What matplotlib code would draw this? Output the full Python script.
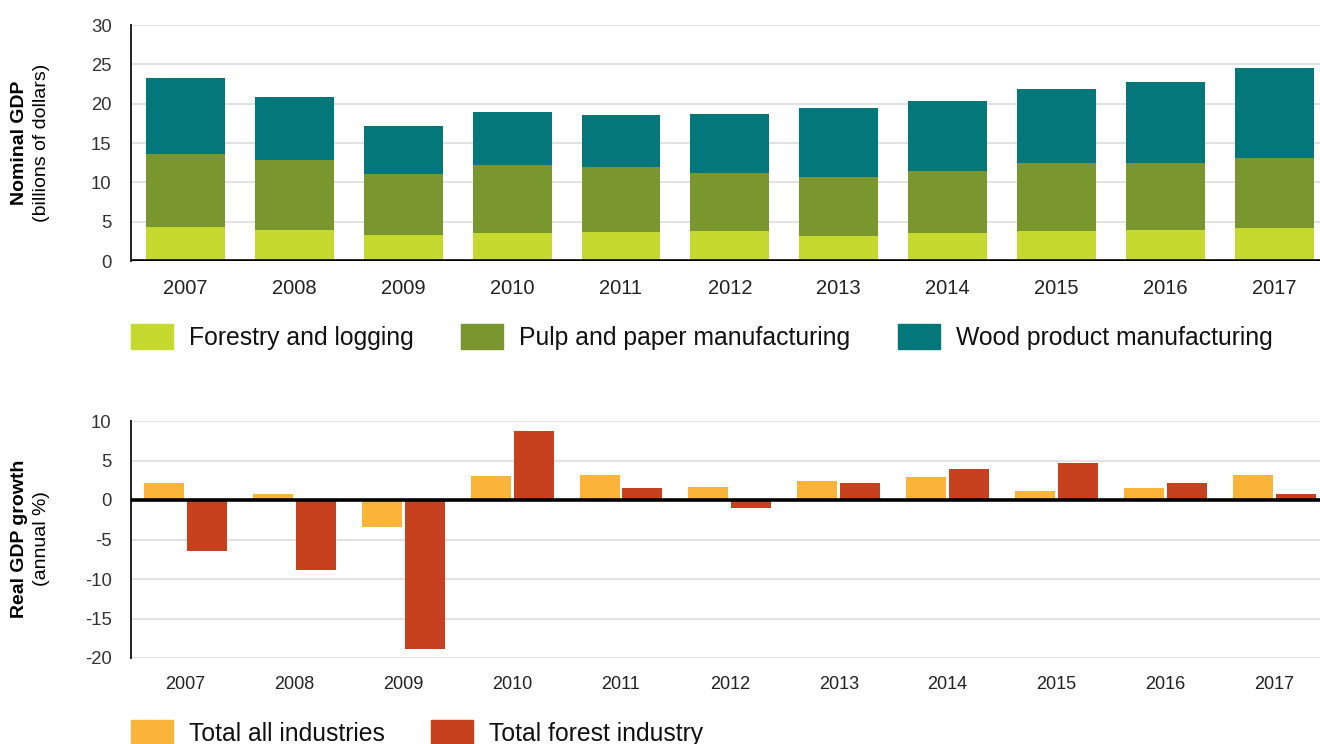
import numpy as np
import matplotlib
matplotlib.use("Agg")
import matplotlib.pyplot as plt
from matplotlib.patches import Rectangle

plt.rcParams['font.family'] = ['Liberation Sans', 'DejaVu Sans']

# data
years = ['2007', '2008', '2009', '2010', '2011', '2012', '2013', '2014', '2015', '2016', '2017']
forestry = [4.3, 4.0, 3.3, 3.5, 3.7, 3.8, 3.2, 3.6, 3.8, 4.0, 4.2]
pulp = [9.3, 8.8, 7.8, 8.7, 8.2, 7.4, 7.5, 7.9, 8.6, 8.5, 8.9]
wood = [9.7, 8.0, 6.1, 6.8, 6.6, 7.5, 8.8, 8.8, 9.5, 10.3, 11.4]
top_labels = ['Forestry and logging', 'Pulp and paper manufacturing', 'Wood product manufacturing']

all_ind = [2.2, 0.7, -3.4, 3.1, 3.2, 1.7, 2.4, 2.9, 1.1, 1.5, 3.2]
forest_ind = [-6.4, -8.9, -18.9, 8.7, 1.5, -1.0, 2.2, 3.9, 4.7, 2.2, 0.7]
bottom_labels = ['Total all industries', 'Total forest industry']

c_top = ['#C6D92F', '#7A962E', '#04777A']
c_bot = ['#FBB43A', '#C8411F']

W, H = 1320, 744
fig = plt.figure(figsize=(W / 100, H / 100), dpi=100)


def px_rect(left, right, top, bottom):
    return [left / W, (H - bottom) / H, (right - left) / W, (bottom - top) / H]


def style_axes(ax, ylim, yticks, xfs):
    ax.set_ylim(*ylim)
    ax.set_xlim(-0.5, 10.42)
    ax.set_yticks(yticks)
    ax.set_yticklabels([str(t) for t in yticks], fontsize=13.3, color='#333333')
    ax.set_xticks(np.arange(len(years)))
    ax.set_xticklabels(years, fontsize=xfs, color='#222222')
    ax.tick_params(axis='both', length=0)
    ax.tick_params(axis='y', pad=14)
    ax.tick_params(axis='x', pad=13)
    for s in ['top', 'right', 'bottom']:
        ax.spines[s].set_visible(False)
    ax.spines['left'].set_linewidth(1.4)
    ax.spines['left'].set_color('#222222')
    ax.grid(axis='y', color='#DDDDDD', linewidth=1.2)
    ax.set_axisbelow(True)


x = np.arange(len(years))

# top: nominal GDP stacked
ax1 = fig.add_axes(px_rect(131, 1320, 25, 261))
b1 = np.array(forestry)
b2 = b1 + np.array(pulp)
ax1.bar(x, forestry, width=0.725, color=c_top[0], zorder=2)
ax1.bar(x, pulp, width=0.725, bottom=b1, color=c_top[1], zorder=2)
ax1.bar(x, wood, width=0.725, bottom=b2, color=c_top[2], zorder=2)
style_axes(ax1, (0, 30), [0, 5, 10, 15, 20, 25, 30], 14.5)
ax1.axhline(0, color='black', linewidth=2.6, zorder=3)

# bottom: real GDP growth
ax2 = fig.add_axes(px_rect(131, 1320, 421, 658))
ax2.bar(x - 0.197, all_ind, width=0.367, color=c_bot[0], zorder=2)
ax2.bar(x + 0.197, forest_ind, width=0.367, color=c_bot[1], zorder=2)
style_axes(ax2, (-20, 10), [-20, -15, -10, -5, 0, 5, 10], 13)
ax2.axhline(0, color='black', linewidth=2.6, zorder=3)

# axis titles
fig.text(20 / W, 1 - 143 / H, 'Nominal GDP', rotation=90, fontsize=14, fontweight='bold',
         ha='center', va='center')
fig.text(42 / W, 1 - 143 / H, '(billions of dollars)', rotation=90, fontsize=14,
         ha='center', va='center')
fig.text(20 / W, 1 - 539 / H, 'Real GDP growth', rotation=90, fontsize=14, fontweight='bold',
         ha='center', va='center')
fig.text(42 / W, 1 - 539 / H, '(annual %)', rotation=90, fontsize=14,
         ha='center', va='center')


# legends
def legend_item(xl, ytop, color, label):
    fig.patches.append(Rectangle((xl / W, 1 - (ytop + 25) / H), 42 / W, 25 / H,
                                 color=color, transform=fig.transFigure, figure=fig))
    fig.text((xl + 58) / W, 1 - (ytop + 14) / H, label, fontsize=17.8,
             ha='left', va='center', color='#111111')


for xl, col, lab in zip([131, 461, 898], c_top, top_labels):
    legend_item(xl, 324, col, lab)
for xl, col, lab in zip([131, 431], c_bot, bottom_labels):
    legend_item(xl, 720, col, lab)

fig.savefig('out.png', dpi=100)
